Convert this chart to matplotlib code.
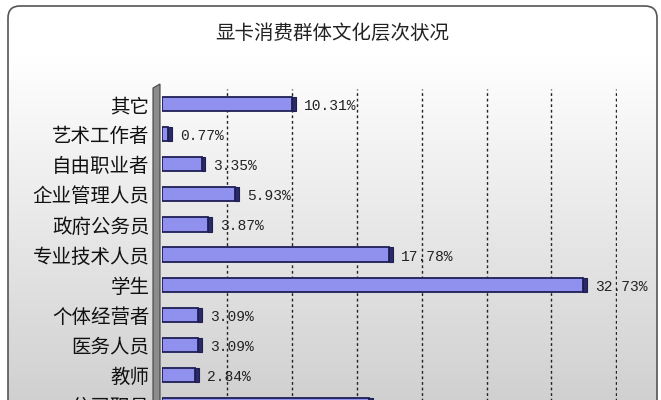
import matplotlib
matplotlib.use("Agg")
import matplotlib.pyplot as plt
import numpy as np
from matplotlib.patches import FancyBboxPatch, Polygon

plt.rcParams['font.family'] = ['Noto Sans CJK SC', 'DejaVu Sans']

# 数据
title = "显卡消费群体文化层次状况"
categories = ["其它", "艺术工作者", "自由职业者", "企业管理人员", "政府公务员",
              "专业技术人员", "学生", "个体经营者", "医务人员", "教师", "公司职员"]
values = [10.31, 0.77, 3.35, 5.93, 3.87, 17.78, 32.73, 3.09, 3.09, 2.84, 16.24]
grid_ticks = [5, 10, 15, 20, 25, 30, 35]

W, H = 661, 400
fig = plt.figure(figsize=(W / 100, H / 100), dpi=100)
fig.patch.set_facecolor("white")

# 背景: 圆角边框 + 灰色渐变
bg = fig.add_axes([0, 0, 1, 1])
bg.set_xlim(0, W)
bg.set_ylim(H, 0)
bg.axis("off")
frame = FancyBboxPatch((8, 6), 649, 420, boxstyle="round,pad=0,rounding_size=12",
                       facecolor="none", edgecolor="#555555", linewidth=1.2, zorder=3)
bg.add_patch(frame)
grad = np.linspace(0, 1, 256).reshape(-1, 1)
im = bg.imshow(grad, cmap=matplotlib.colors.LinearSegmentedColormap.from_list(
    "g", [(0, "#ffffff"), (0.12, "#ffffff"), (1, "#cdcdcd")]),
    extent=(8, 657, 426, 6), aspect="auto", zorder=1)
im.set_clip_path(frame)

# 左侧 3D 墙
wall = Polygon([(153, 88), (160, 84), (160, 430), (153, 430)], closed=True,
               facecolor="#8c8c8c", edgecolor="#444444", linewidth=0.8, zorder=4)
bg.add_patch(wall)

bg.text(332, 33, title, ha="center", va="center", fontsize=14, color="#222222")

# 主图
x0, x1 = 162, 617
top = 89
n = len(categories)
row = 30.1
ax = fig.add_axes([x0 / W, 1 - (top + n * row) / H, (x1 - x0) / W, n * row / H])
ax.set_facecolor("none")
y = np.arange(n)
cap = 0.3
ax.barh(y, [v - cap for v in values], height=0.47, color="#9090ee",
        edgecolor="#1e1e55", linewidth=1.3, zorder=3)
ax.barh(y, cap, left=[v - cap for v in values], height=0.47, color="#2a2a66",
        edgecolor="#1e1e55", linewidth=0.8, zorder=3)

for yi, v in zip(y, values):
    ax.annotate(f"{v:.2f}%", (v, yi), xytext=(8, -2), textcoords="offset pixels",
                ha="left", va="center", fontsize=10.5, family="Liberation Mono",
                color="#222222", zorder=5)

ax.set_xlim(0, 35.05)
ax.set_ylim(n - 0.5, -0.5)
ax.set_xticks(grid_ticks)
ax.set_xticklabels([])
ax.tick_params(axis="x", length=0)
ax.xaxis.grid(True, linestyle=(0, (2, 2)), color="#222222", linewidth=1.0, zorder=0)
ax.set_yticks(y)
ax.set_yticklabels(categories, fontsize=14, color="#111111")
ax.tick_params(axis="y", length=0, pad=9)
for s in ax.spines.values():
    s.set_visible(False)

fig.savefig("out.png", dpi=100)
